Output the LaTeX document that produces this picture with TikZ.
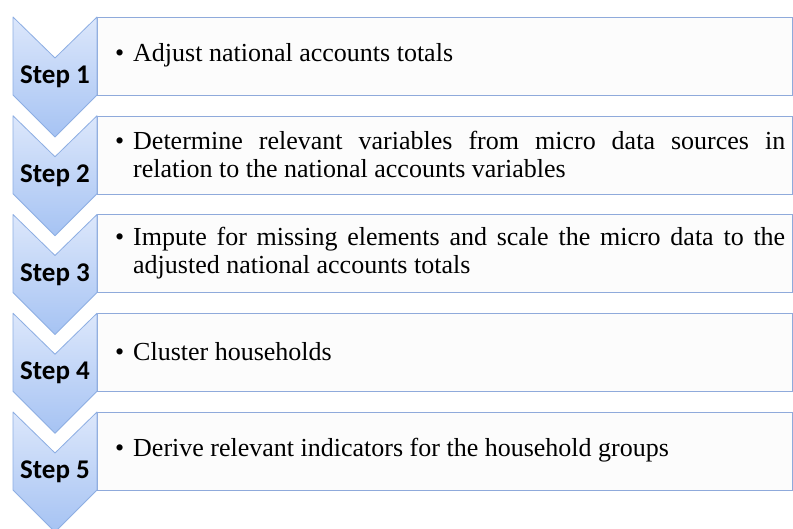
\documentclass[tikz,border=0pt]{standalone}
\usepackage{fontspec}
\setmainfont{Liberation Serif}
\newfontfamily\steplabelfont{Carlito}
\usepackage{tikz}
\usetikzlibrary{positioning}
\usepackage{xcolor}
\definecolor{chevtop}{HTML}{DCE7FB}
\definecolor{chevbot}{HTML}{A6C3F3}
\definecolor{chevline}{HTML}{8DAEE3}
\definecolor{boxline}{HTML}{8FAADB}
\definecolor{boxfill}{HTML}{FCFCFC}

\newcommand{\chevron}[1]{%
\shade[top color=chevtop, bottom color=chevbot, draw=chevline, line width=.8pt, line join=round]
  (13,#1)--(55,#1+41)--(97,#1)--(97,#1+78)--(55,#1+120)--(13,#1+78)--cycle;}
\newcommand{\stepbullet}{\llap{\textbullet\hskip 9pt}}

\begin{document}
\begin{tikzpicture}[x=1pt, y=-1pt,
  stepbox/.style={draw=boxline, fill=boxfill, line width=.8pt, minimum width=695pt, minimum height=78pt, anchor=north west, inner sep=0pt},
  steplabel/.style={font=\steplabelfont\bfseries\fontsize{27}{30}\selectfont},
  steptext/.style={anchor=west, text width=652pt, align=justify, inner sep=0pt, font=\fontsize{26}{28}\selectfont}]
\useasboundingbox (0,0) rectangle (793,529);
\fill[white] (0,0) rectangle (793,529);
% boxes
\node[stepbox] (box1) at (97,17) {};
\node[stepbox] (box2) at (97,115.75) {};
\node[stepbox] (box3) at (97,214.5) {};
\node[stepbox] (box4) at (97,313.25) {};
\node[stepbox] (box5) at (97,412) {};
% chevrons
\chevron{17}
\chevron{115.75}
\chevron{214.5}
\chevron{313.25}
\chevron{412}
\node[steplabel] (step1) at (55,77) {Step 1};
\node[steplabel] (step2) at (55,175.75) {Step 2};
\node[steplabel] (step3) at (55,274.5) {Step 3};
\node[steplabel] (step4) at (55,373.25) {Step 4};
\node[steplabel] (step5) at (55,472) {Step 5};
% texts
\node[steptext] (text1) at (133,55) {\stepbullet Adjust national accounts totals};
\node[steptext] (text2) at (133,154.75) {\stepbullet Determine relevant variables from micro data sources in\linebreak relation to the national accounts variables};
\node[steptext] (text3) at (133,253.5) {\stepbullet Impute for missing elements and scale the micro data to the\linebreak adjusted national accounts totals};
\node[steptext] (text4) at (133,351.25) {\stepbullet Cluster households};
\node[steptext] (text5) at (133,450) {\stepbullet Derive relevant indicators for the household groups};
\end{tikzpicture}
\end{document}
